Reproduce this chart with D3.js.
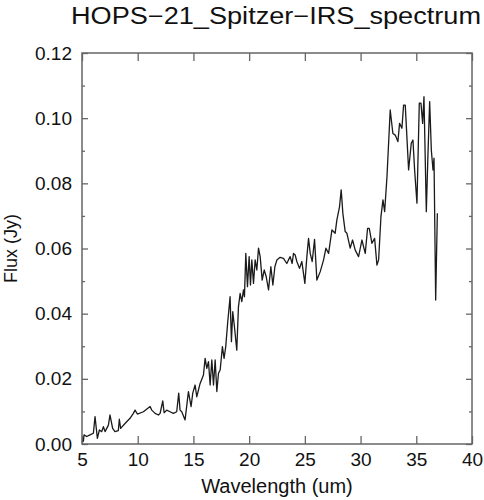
<!DOCTYPE html>
<html>
<head>
<meta charset="utf-8">
<script src="https://cdn.jsdelivr.net/npm/d3@7"></script>
<style>
  body { margin: 0; background: #fff; }
  svg { font-family: "Liberation Sans", Arial, Helvetica, sans-serif; }
  .axis text { font-size: 19px; fill: #111; }
  .axis line { stroke: #666; stroke-width: 1.3; }
</style>
</head>
<body>
<script>
// spectrum
var wavelength = [5.12, 5.18, 5.42, 5.72, 6.02, 6.17, 6.38, 6.56, 6.77, 6.92, 7.07, 7.37, 7.51, 7.75, 7.96,
  8.26, 8.35, 8.47, 8.86, 9.31, 9.61, 9.76, 9.97, 10.51, 11.11, 11.26, 11.56, 11.86, 12.01, 12.25,
  12.37, 12.60, 12.90, 13.20, 13.50, 13.68, 13.80, 13.95, 14.25, 14.55, 14.79, 14.94, 15.15, 15.30,
  15.60, 15.90, 16.05, 16.20, 16.35, 16.50, 16.65, 16.80, 16.95, 17.10, 17.25, 17.40, 17.60, 17.75,
  17.90, 18.08, 18.29, 18.41, 18.53, 18.68, 18.89, 19.04, 19.19, 19.34, 19.49, 19.58, 19.70, 19.85,
  20.00, 20.12, 20.24, 20.39, 20.54, 20.69, 20.84, 20.99, 21.17, 21.35, 21.53, 21.74, 21.95, 22.13,
  22.31, 22.49, 22.78, 23.08, 23.38, 23.53, 23.68, 23.86, 23.98, 24.13, 24.28, 24.52, 24.73, 25.00,
  25.18, 25.33, 25.48, 25.66, 25.87, 26.08, 26.38, 26.68, 26.89, 27.13, 27.43, 27.72, 27.87, 28.11,
  28.26, 28.41, 28.62, 28.77, 29.07, 29.28, 29.52, 29.82, 30.12, 30.42, 30.63, 30.78, 31.02, 31.26,
  31.47, 31.62, 31.83, 32.01, 32.16, 32.37, 32.66, 32.90, 33.11, 33.35, 33.50, 33.71, 33.86, 34.01,
  34.31, 34.55, 34.70, 34.85, 35.06, 35.27, 35.42, 35.57, 35.69, 35.90, 36.05, 36.20, 36.35, 36.50,
  36.59, 36.74, 36.89];
var flux = [0.0007, 0.0028, 0.0023, 0.0028, 0.0033, 0.0084, 0.0017, 0.0043, 0.0038, 0.0053, 0.0038, 0.0058, 0.0089, 0.0048, 0.0038,
  0.0041, 0.0076, 0.0048, 0.0063, 0.0079, 0.0094, 0.0104, 0.0092, 0.0099, 0.0115, 0.0104, 0.0094, 0.0089, 0.0094, 0.0132,
  0.0096, 0.0104, 0.0099, 0.0094, 0.0099, 0.0156, 0.0104, 0.0099, 0.0074, 0.0161, 0.0115, 0.0156, 0.0181, 0.0145,
  0.0186, 0.0212, 0.0263, 0.0232, 0.0253, 0.0181, 0.0258, 0.0181, 0.0258, 0.0161, 0.0217, 0.0227, 0.0299, 0.0263,
  0.0299, 0.0375, 0.0452, 0.0314, 0.0406, 0.0360, 0.0288, 0.0421, 0.0462, 0.0437, 0.0473, 0.0452, 0.0585, 0.0483,
  0.0575, 0.0488, 0.0565, 0.0493, 0.0565, 0.0534, 0.0601, 0.0575, 0.0503, 0.0534, 0.0514, 0.0473, 0.0544, 0.0488,
  0.0544, 0.0565, 0.0573, 0.0570, 0.0554, 0.0565, 0.0575, 0.0554, 0.0585, 0.0580, 0.0560, 0.0539, 0.0560, 0.0493,
  0.0575, 0.0631, 0.0585, 0.0560, 0.0628, 0.0503, 0.0529, 0.0565, 0.0601, 0.0585, 0.0657, 0.0647, 0.0687, 0.0728,
  0.0780, 0.0708, 0.0652, 0.0647, 0.0601, 0.0626, 0.0595, 0.0575, 0.0626, 0.0585, 0.0662, 0.0662, 0.0616, 0.0631,
  0.0549, 0.0565, 0.0698, 0.0749, 0.0713, 0.0820, 0.1025, 0.0953, 0.0948, 0.0928, 0.0984, 0.0969, 0.1040, 0.1040,
  0.0841, 0.0923, 0.0933, 0.0841, 0.0739, 0.1046, 0.1046, 0.0984, 0.1066, 0.0713, 0.0892, 0.1051, 0.0902, 0.0841,
  0.0877, 0.0442, 0.0708];

var xTicks = [5, 10, 15, 20, 25, 30, 35, 40];
var yTicks = [0, 0.02, 0.04, 0.06, 0.08, 0.10, 0.12];
var yMinor = [0.01, 0.03, 0.05, 0.07, 0.09, 0.11];

var W = 484, H = 500;
var pL = 82, pR = 472, pT = 53, pB = 444;

var svg = d3.select("body").append("svg").attr("width", W).attr("height", H);

var x = d3.scaleLinear().domain([5, 40]).range([pL, pR]);
var y = d3.scaleLinear().domain([0, 0.12]).range([pB, pT]);

// ticks point inward on all four sides
function clean(g) { g.select(".domain").remove(); }

svg.append("g").attr("class", "axis").attr("transform", "translate(0," + pB + ")")
  .call(d3.axisBottom(x).tickValues(xTicks).tickSize(-8).tickPadding(9).tickFormat(d3.format("d")))
  .call(clean);
svg.append("g").attr("class", "axis").attr("transform", "translate(0," + pT + ")")
  .call(d3.axisTop(x).tickValues(xTicks).tickSize(-8).tickFormat(""))
  .call(clean);
svg.append("g").attr("class", "axis").attr("transform", "translate(" + pL + ",0)")
  .call(d3.axisLeft(y).tickValues(yTicks).tickSize(-6).tickPadding(10).tickFormat(d3.format(".2f")))
  .call(clean);
svg.append("g").attr("class", "axis").attr("transform", "translate(" + pL + ",0)")
  .call(d3.axisLeft(y).tickValues(yMinor).tickSize(-3).tickFormat(""))
  .call(clean);
svg.append("g").attr("class", "axis").attr("transform", "translate(" + pR + ",0)")
  .call(d3.axisRight(y).tickValues(yTicks).tickSize(-6).tickFormat(""))
  .call(clean);
svg.append("g").attr("class", "axis").attr("transform", "translate(" + pR + ",0)")
  .call(d3.axisRight(y).tickValues(yMinor).tickSize(-3).tickFormat(""))
  .call(clean);

svg.append("rect")
  .attr("x", pL).attr("y", pT)
  .attr("width", pR - pL).attr("height", pB - pT)
  .attr("fill", "none").attr("stroke", "#666").attr("stroke-width", 1.5);

var pts = wavelength.map(function (w, i) { return [w, flux[i]]; });
var line = d3.line().x(function (d) { return x(d[0]); }).y(function (d) { return y(d[1]); });

svg.append("path")
  .datum(pts)
  .attr("d", line)
  .attr("fill", "none")
  .attr("stroke", "#1a1a1a")
  .attr("stroke-width", 1.3)
  .attr("stroke-linejoin", "round");

svg.append("text")
  .attr("x", 276).attr("y", 24)
  .attr("text-anchor", "middle")
  .attr("textLength", 410).attr("lengthAdjust", "spacingAndGlyphs")
  .style("font-size", "23px").attr("fill", "#111")
  .text("HOPS\u221221_Spitzer\u2212IRS_spectrum");

svg.append("text")
  .attr("x", (pL + pR) / 2).attr("y", 493)
  .attr("text-anchor", "middle")
  .style("font-size", "20px").attr("fill", "#111")
  .text("Wavelength (um)");

svg.append("text")
  .attr("transform", "translate(17," + ((pT + pB) / 2) + ") rotate(-90)")
  .attr("text-anchor", "middle")
  .style("font-size", "18px").attr("fill", "#111")
  .text("Flux (Jy)");
</script>
</body>
</html>
